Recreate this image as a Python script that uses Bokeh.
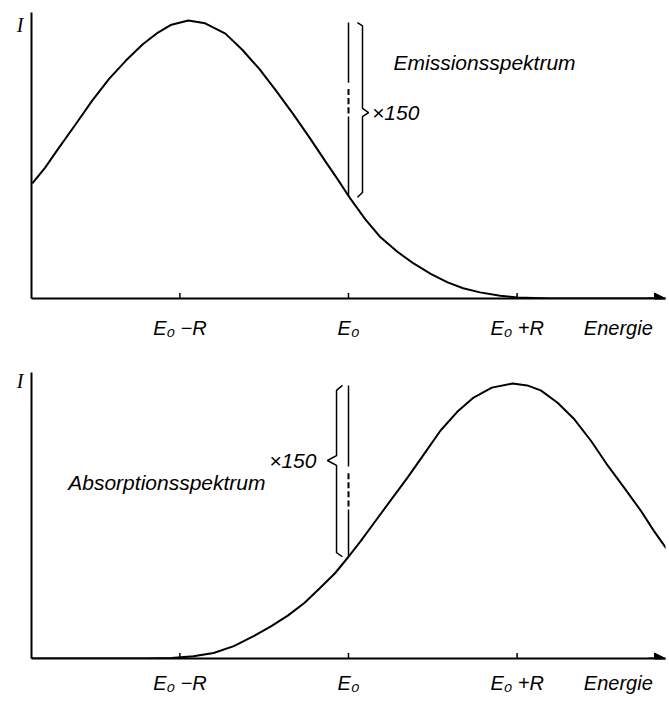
import numpy as np
from bokeh.plotting import figure
from bokeh.layouts import column
from bokeh.models import (Range1d, FixedTicker, Label, Arrow, NormalHead, LinearAxis)
from bokeh.embed import file_html
from bokeh.resources import INLINE

# ---- data (E0 = 0, R = 1; intensity normalised to peak = 1) ----
tick_positions = [-1, 0, 1]
tick_labels = ["E₀ −R", "E₀", "E₀ +R"]
x_label_pos = 1.60
x_label = "Energie"
y_label = "I"

emission_x = [-1.875, -1.8, -1.72, -1.62, -1.52, -1.42, -1.32, -1.22, -1.13, -1.05, -0.95,
              -0.85, -0.73, -0.63, -0.53, -0.43, -0.33, -0.23, -0.14, -0.06, 0.01, 0.1,
              0.19, 0.29, 0.386, 0.49, 0.588, 0.68, 0.78, 0.9, 1.0, 1.2, 1.88]
emission_y = [0.414, 0.47, 0.54, 0.625, 0.712, 0.79, 0.856, 0.915, 0.957, 0.985, 1.0,
              0.99, 0.953, 0.895, 0.827, 0.748, 0.665, 0.578, 0.496, 0.425, 0.36, 0.285,
              0.22, 0.168, 0.126, 0.088, 0.058, 0.037, 0.022, 0.01, 0.004, 0.0, 0.0]

absorption_x = [-1.88, -1.2, -1.05, -0.92, -0.8, -0.68, -0.56, -0.46, -0.36, -0.26, -0.166,
                -0.08, 0.0, 0.07, 0.148, 0.25, 0.35, 0.45, 0.546, 0.645, 0.742, 0.85, 0.973,
                1.06, 1.14, 1.24, 1.335, 1.44, 1.537, 1.64, 1.733, 1.81, 1.893]
absorption_y = [0.0, 0.0, 0.002, 0.008, 0.02, 0.045, 0.082, 0.117, 0.156, 0.203, 0.258,
                0.31, 0.37, 0.425, 0.49, 0.575, 0.658, 0.745, 0.829, 0.897, 0.949, 0.985, 1.0,
                0.993, 0.975, 0.93, 0.873, 0.79, 0.702, 0.617, 0.538, 0.465, 0.393]

FONT = "'Liberation Sans', Arial, sans-serif"
XR = (-1.88, 1.88)


def base_fig(height, top, bottom, y_end, standoff, i_pos, tick_len):
    p = figure(width=669, height=height, x_range=Range1d(*XR), y_range=Range1d(0, y_end),
               output_backend="svg", toolbar_location=None, min_border_left=31,
               min_border_right=4, min_border_top=top, min_border_bottom=bottom,
               x_axis_type=None, y_axis_type=None)
    p.outline_line_color = None
    p.xgrid.visible = False
    p.ygrid.visible = False
    p.background_fill_color = "white"
    ticks = tick_positions + [x_label_pos]
    labels = tick_labels + [x_label]
    xa = LinearAxis(ticker=FixedTicker(ticks=ticks),
                    major_label_overrides={t: l for t, l in zip(ticks, labels)})
    xa.axis_line_width = 2
    xa.axis_line_color = "black"
    xa.major_tick_in = 0
    xa.major_tick_out = 0
    xa.minor_tick_in = 0
    xa.minor_tick_out = 0
    xa.major_label_standoff = standoff
    xa.major_label_text_font = FONT
    xa.major_label_text_font_style = "italic"
    xa.major_label_text_font_size = "20px"
    xa.major_label_text_color = "black"
    p.add_layout(xa, "below")
    ya = LinearAxis(ticker=FixedTicker(ticks=[i_pos]), major_label_overrides={i_pos: y_label})
    ya.axis_line_width = 2
    ya.axis_line_color = "black"
    ya.major_tick_out = 0
    ya.major_tick_in = 0
    ya.minor_tick_out = 0
    ya.minor_tick_in = 0
    ya.major_label_standoff = 8
    ya.major_label_text_font = "'Liberation Serif', serif"
    ya.major_label_text_font_style = "italic"
    ya.major_label_text_font_size = "20px"
    ya.major_label_text_color = "black"
    p.add_layout(ya, "left")
    # small tick marks on the energy axis
    p.segment(x0=tick_positions, y0=[0] * 3, x1=tick_positions, y1=[tick_len] * 3,
              line_width=1.5, line_color="black")
    p.add_layout(Arrow(end=NormalHead(size=11, fill_color="black", line_color="black"),
                       x_start=XR[1] - 0.1, y_start=0, x_end=XR[1], y_end=0,
                       line_width=2, line_color="black"))
    return p


def marker_line(p, y_curve, y_top, dash_lo, dash_hi, dash, gap):
    p.line([0, 0], [y_curve, dash_lo], line_width=1.5, line_color="black")
    starts = np.arange(dash_lo + gap, dash_hi - dash, dash + gap)
    p.segment(x0=np.zeros_like(starts), y0=starts, x1=np.zeros_like(starts), y1=starts + dash,
              line_width=2, line_color="black")
    p.line([0, 0], [dash_hi, y_top], line_width=1.5, line_color="black")


# ---------------- top: emission ----------------
p1 = base_fig(350, 12, 52, 1.029, 18, 0.985, 0.02)
p1.line(emission_x, emission_y, line_width=2, line_color="black")
e0_top = float(np.interp(0.0, emission_x, emission_y))
y_top1 = 0.993
marker_line(p1, e0_top, y_top1, 0.655, 0.776, 0.022, 0.011)
tip1 = 0.669
bx = [0.053, 0.083, 0.083, 0.119, 0.083, 0.083, 0.053]
by = [y_top1, y_top1 - 0.012, tip1 + 0.015, tip1, tip1 - 0.015, e0_top + 0.012, e0_top - 0.005]
p1.line(bx, by, line_width=1.5, line_color="black")
p1.add_layout(Label(x=0.14, y=tip1, text="×150", text_font=FONT, text_font_style="italic",
                    text_font_size="21px", text_align="left", text_baseline="middle",
                    text_color="black"))
p1.add_layout(Label(x=0.267, y=0.849, text="Emissionsspektrum", text_font=FONT,
                    text_font_style="italic", text_font_size="21px", text_color="black",
                    text_align="left", text_baseline="middle"))

# ---------------- bottom: absorption ----------------
p2 = base_fig(351, 22, 43, 1.04, 13, 1.01, 0.02)
p2.line(absorption_x, absorption_y, line_width=2, line_color="black")
e0_bot = float(np.interp(0.0, absorption_x, absorption_y))
y_top2 = 0.993
marker_line(p2, e0_bot, y_top2, 0.542, 0.698, 0.022, 0.011)
tip2 = 0.72
bx2 = [-0.036, -0.071, -0.071, -0.125, -0.071, -0.071, -0.036]
by2 = [y_top2, y_top2 - 0.018, tip2 + 0.018, tip2, tip2 - 0.018, e0_bot + 0.015, e0_bot]
p2.line(bx2, by2, line_width=1.5, line_color="black")
p2.add_layout(Label(x=-0.19, y=tip2, text="×150", text_font=FONT, text_font_style="italic",
                    text_font_size="21px", text_align="right", text_baseline="middle",
                    text_color="black"))
p2.add_layout(Label(x=-1.662, y=0.64, text="Absorptionsspektrum", text_font=FONT,
                    text_font_style="italic", text_font_size="21px", text_color="black",
                    text_align="left", text_baseline="middle"))

layout = column(p1, p2, spacing=0)
open("out.html", "w").write(file_html(layout, INLINE))
